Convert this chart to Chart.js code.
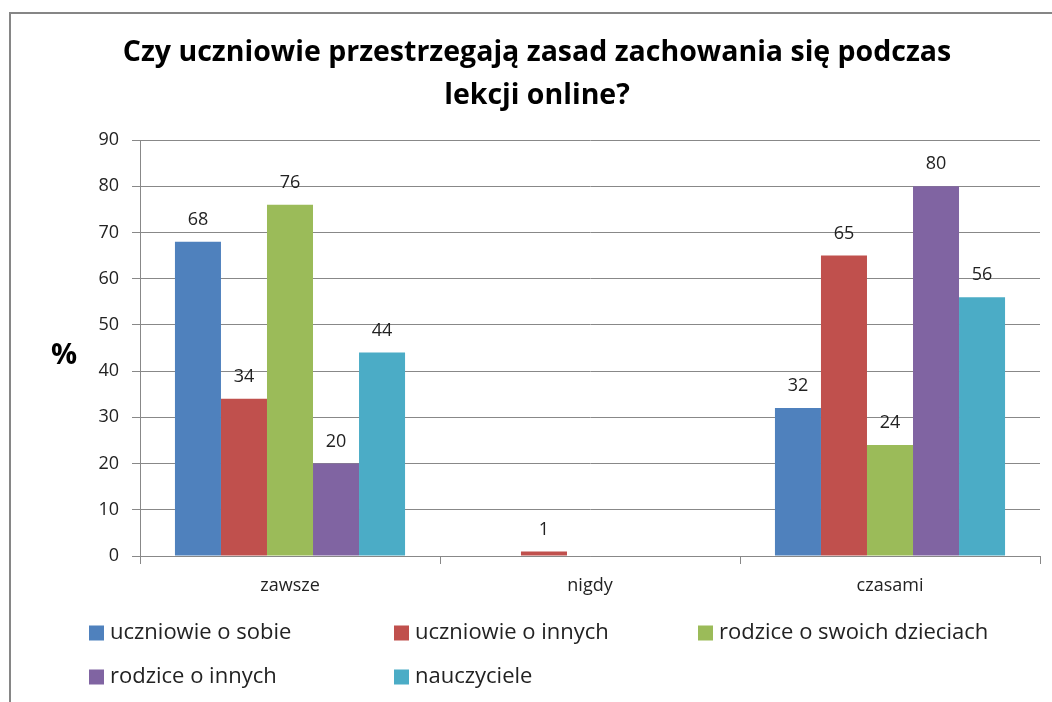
<!DOCTYPE html>
<html>
<head>
<meta charset="utf-8">
<script src="https://cdn.jsdelivr.net/npm/chart.js@4/dist/chart.umd.min.js"></script>
<style>
    body { margin: 0; background: #fff; }
    canvas { display: block; }
</style>
</head>
<body>
<canvas id="chart" width="1052" height="702"></canvas>
<script>
const categories = ["zawsze", "nigdy", "czasami"];
const seriesNames = ["uczniowie o sobie", "uczniowie o innych", "rodzice o swoich dzieciach", "rodzice o innych", "nauczyciele"];
const uczniowieOSobie = [68, 0, 32];
const uczniowieOInnych = [34, 1, 65];
const rodziceODzieciach = [76, 0, 24];
const rodziceOInnych = [20, 0, 80];
const nauczyciele = [44, 0, 56];
const yMax = 90;
const yStep = 10;
const titleLines = ["Czy uczniowie przestrzegają zasad zachowania się podczas", "lekcji online?"];
const axisTitle = "%";

const colors = ["#4F81BD", "#C0504D", "#9BBB59", "#8064A2", "#4BACC6"];
const allSeries = [uczniowieOSobie, uczniowieOInnych, rodziceODzieciach, rodziceOInnych, nauczyciele];
const FONT = "'Open Sans', Lato, sans-serif";

// frame, title, % label, value labels, legend
const extras = {
    id: "extras",
    afterDraw(chart) {
        const ctx = chart.ctx;
        ctx.save();

        // outer frame (only top and left edges visible)
        ctx.strokeStyle = "#868686";
        ctx.lineWidth = 2;
        ctx.beginPath();
        ctx.moveTo(10, 702);
        ctx.lineTo(10, 13);
        ctx.lineTo(1052, 13);
        ctx.stroke();

        // title
        ctx.fillStyle = "#000";
        ctx.font = "bold 28.5px " + FONT;
        ctx.textAlign = "center";
        ctx.textBaseline = "middle";
        ctx.fillText(titleLines[0], 537, 53);
        ctx.fillText(titleLines[1], 537, 96);

        // y axis title
        ctx.font = "bold 29px " + FONT;
        ctx.fillText(axisTitle, 64, 356);

        // value labels
        ctx.font = "18px " + FONT;
        ctx.fillStyle = "#222";
        ctx.textBaseline = "middle";
        chart.data.datasets.forEach((ds, i) => {
            const meta = chart.getDatasetMeta(i);
            meta.data.forEach((bar, j) => {
                if (!ds.data[j]) return;
                ctx.fillText(String(ds.data[j]), bar.x, bar.y - 22);
            });
        });

        // legend
        const colX = [89, 394, 698];
        const rowY = [633, 677];
        ctx.font = "22px " + FONT;
        ctx.textAlign = "left";
        ctx.textBaseline = "middle";
        chart.data.datasets.forEach((ds, i) => {
            const x = colX[i % 3];
            const y = rowY[Math.floor(i / 3)];
            ctx.fillStyle = ds.backgroundColor;
            ctx.fillRect(x, y - 7.5, 15, 15);
            ctx.fillStyle = "#222";
            ctx.fillText(ds.label, x + 21, y);
        });

        ctx.restore();
    }
};

new Chart(document.getElementById("chart"), {
    type: "bar",
    data: {
        labels: categories,
        datasets: seriesNames.map((name, i) => ({
            label: name,
            data: allSeries[i],
            backgroundColor: colors[i],
            borderWidth: 0,
            categoryPercentage: 0.767,
            barPercentage: 1
        }))
    },
    options: {
        responsive: false,
        animation: false,
        layout: { padding: { top: 140, right: 12, left: 0, bottom: 0 } },
        plugins: {
            legend: { display: false },
            title: { display: false },
            tooltip: { enabled: false }
        },
        scales: {
            x: {
                afterFit: (scale) => { scale.height = 146; },
                grid: { display: true, drawOnChartArea: false, offset: true, tickLength: 8, color: "#888" },
                border: { color: "#888" },
                ticks: { color: "#222", font: { family: FONT, size: 18 }, padding: 11 }
            },
            y: {
                min: 0,
                max: yMax,
                afterFit: (scale) => { scale.width = 140; },
                grid: { color: "#888", tickLength: 8 },
                border: { color: "#888" },
                ticks: { stepSize: yStep, color: "#222", font: { family: FONT, size: 18 }, padding: 13 }
            }
        }
    },
    plugins: [extras]
});
</script>
</body>
</html>
